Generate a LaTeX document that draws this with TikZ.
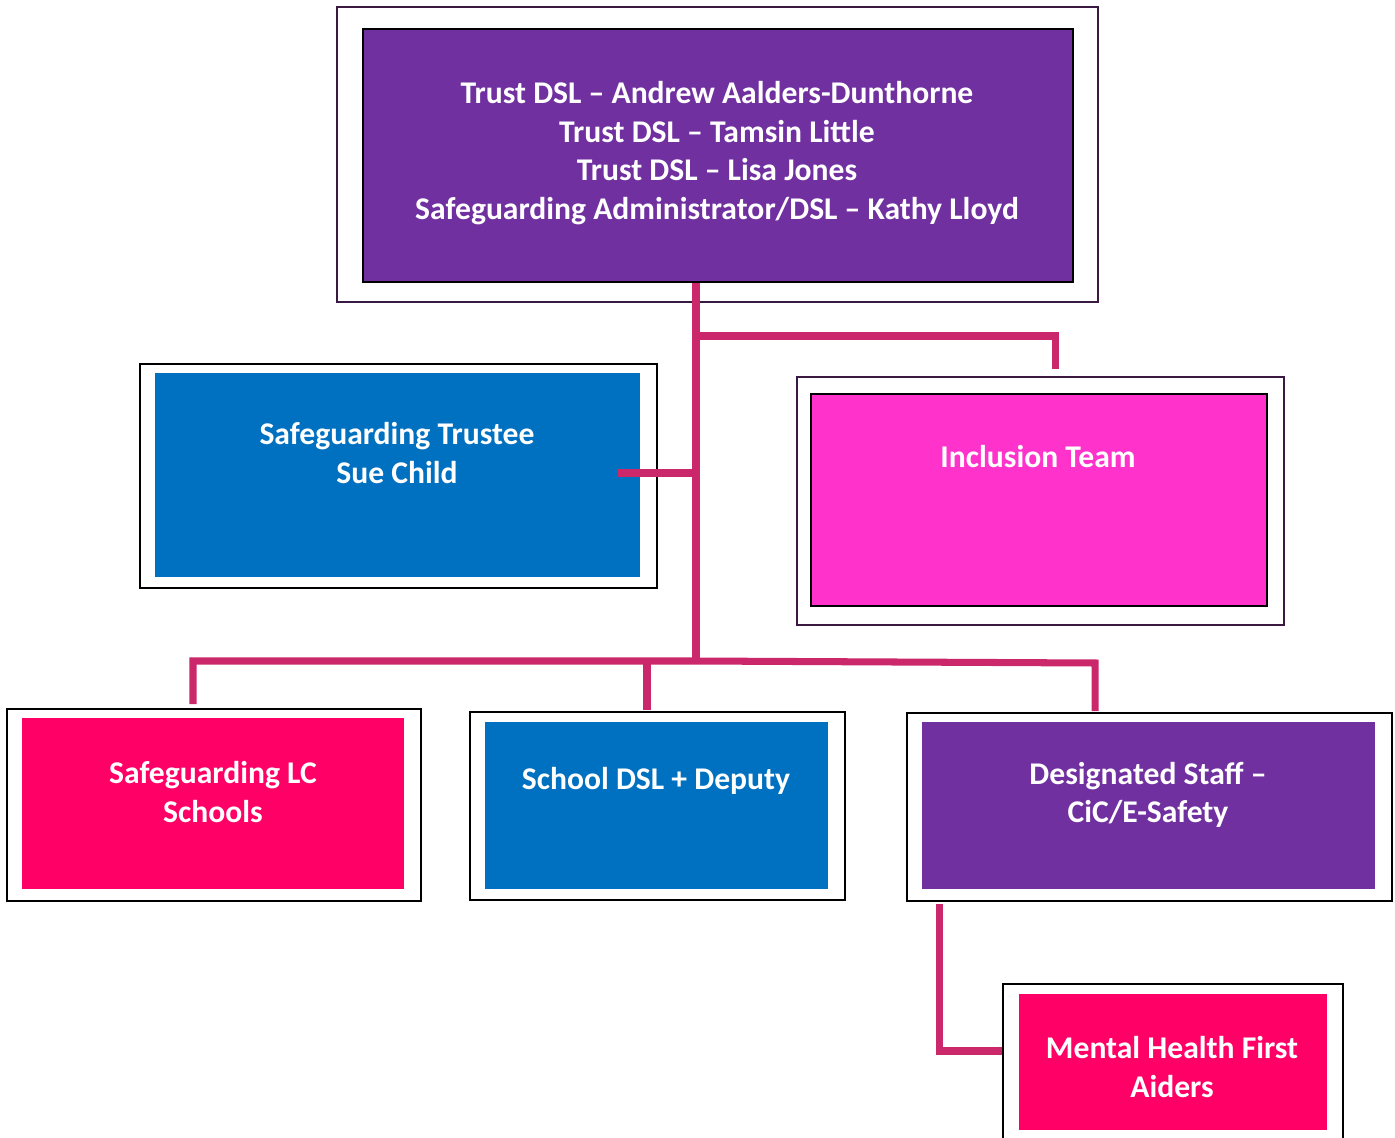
\documentclass[tikz,border=0pt]{standalone}
\usepackage{fontspec}
\setmainfont{Carlito}
\usetikzlibrary{positioning}

\definecolor{dslpurple}{HTML}{7030A0}
\definecolor{dslblue}{HTML}{0070C0}
\definecolor{dslpink}{HTML}{FF33CC}
\definecolor{dslred}{HTML}{FF0066}
\definecolor{linkpink}{HTML}{CA286B}
\definecolor{framepurple}{HTML}{3A1A42}

\tikzset{
  frame/.style={draw=#1, line width=1.3pt, fill=white, anchor=north west, inner sep=0pt},
  panel/.style={fill=#1, anchor=north west, inner sep=0pt},
  edged/.style={draw=black, line width=1.1pt},
  caption/.style={text=white, font=\bfseries\fontsize{18}{22}\selectfont, align=center},
  link/.style={draw=linkpink, line width=4pt}
}

\begin{document}
\begin{tikzpicture}[x=0.02cm, y=-0.02cm]
\useasboundingbox (0,0) rectangle (1395,1138);

% top box
\node[frame=framepurple, minimum width=15.22cm, minimum height=5.9cm] (topout) at (336,6) {};
\node[panel=dslpurple, edged, minimum width=14.2cm, minimum height=5.06cm] (topin) at (362,28) {};
\node[caption] (toptxt) at (717,153) {Trust DSL -- Andrew Aalders-Dunthorne\\Trust DSL -- Tamsin Little\\Trust DSL -- Lisa Jones\\Safeguarding Administrator/DSL -- Kathy Lloyd};

% trustee
\node[frame=black, minimum width=10.34cm, minimum height=4.48cm] (trustout) at (139,363) {};
\node[panel=dslblue, minimum width=9.7cm, minimum height=4.08cm] (trustin) at (155,373) {};
\node[caption] (trusttxt) at (397,453) {Safeguarding Trustee\\Sue Child};

% inclusion
\node[frame=framepurple, minimum width=9.74cm, minimum height=4.96cm] (incout) at (796,376) {};
\node[panel=dslpink, edged, minimum width=9.12cm, minimum height=4.24cm] (incin) at (810,393) {};
\node[caption] (inctxt) at (1038,457) {Inclusion Team};

% bottom row
\node[frame=black, minimum width=8.28cm, minimum height=3.84cm] (lcout) at (6,708) {};
\node[panel=dslred, minimum width=7.64cm, minimum height=3.42cm] (lcin) at (22,718) {};
\node[caption] (lctxt) at (213,792) {Safeguarding LC\\Schools};

\node[frame=black, minimum width=7.5cm, minimum height=3.76cm] (schout) at (469,711) {};
\node[panel=dslblue, minimum width=6.86cm, minimum height=3.34cm] (schin) at (485,722) {};
\node[caption] (schtxt) at (656,781) {School DSL + Deputy};

\node[frame=black, minimum width=9.7cm, minimum height=3.76cm] (desout) at (906,712) {};
\node[panel=dslpurple, minimum width=9.06cm, minimum height=3.34cm] (desin) at (922,722) {};
\node[caption] (destxt) at (1148,795) {Designated Staff --\\CiC/E-Safety};

\node[frame=black, minimum width=6.8cm, minimum height=3.4cm] (mhout) at (1002,983) {};
\node[panel=dslred, minimum width=6.16cm, minimum height=2.72cm] (mhin) at (1019,994) {};
\node[caption] (mhtxt) at (1172,1067) {Mental Health First\\Aiders};

% connectors
\coordinate (jinc) at (696,336);
\coordinate (jtrust) at (696,473);
\coordinate (jrow) at (696,661);
\coordinate (incstub) at (1055,369);
\coordinate (trustend) at (618,473);
\coordinate (mhstub) at (939,1051);

\draw[link] (topin.south -| jinc) -- (jrow);
\draw[link] (jinc) -- (jinc -| incstub) -- (incstub);
\draw[link] (jtrust) -- (trustend);
\draw[link] (193,704) |- (jrow) -- (1095,663) -- (1095,711);
\draw[link] (647,661) -- (647,710);
\draw[link] (939,904) -- (mhstub) -- (mhstub -| mhout.west);
\end{tikzpicture}
\end{document}
